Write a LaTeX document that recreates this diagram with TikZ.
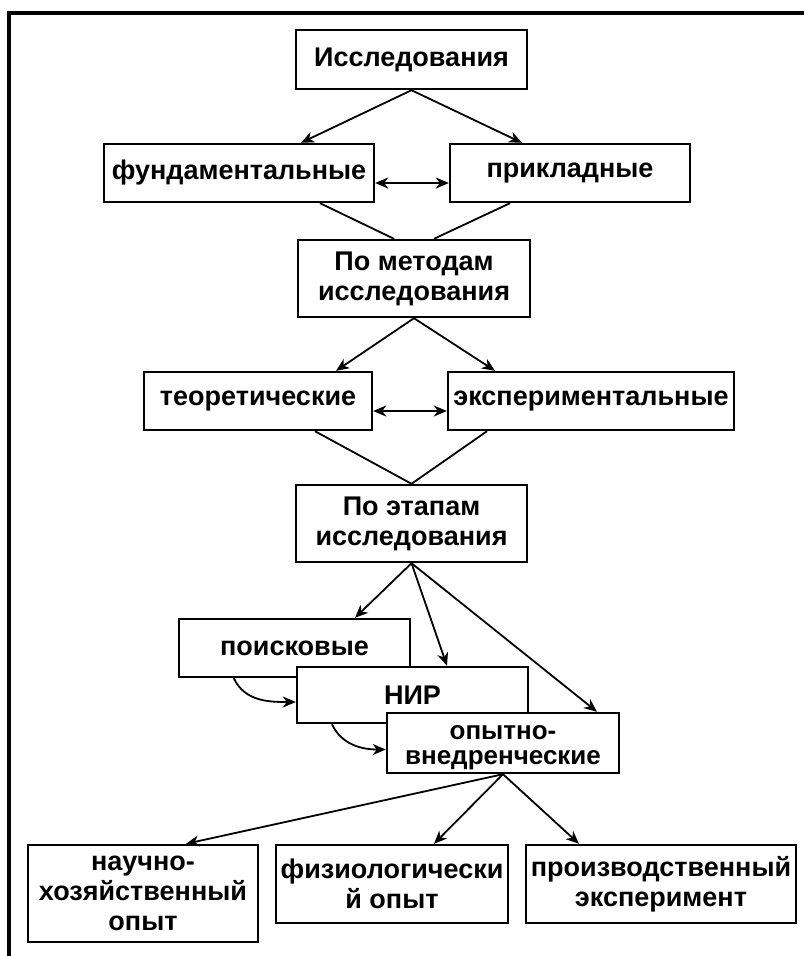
\documentclass[tikz,border=0pt]{standalone}
\usepackage{fontspec}
\setmainfont{Liberation Sans}
\usetikzlibrary{arrows.meta}
\tikzset{
  box/.style={draw, line width=2.4pt, fill=white, inner sep=0pt, align=center,
    font=\bfseries\fontsize{27}{30}\selectfont},
  conn/.style={line width=1.8pt},
  tip/.tip={Stealth[length=13pt,width=11pt,inset=4pt]},
  arr/.style={conn, -tip},
  darr/.style={conn, tip-tip},
}
\begin{document}
\begin{tikzpicture}[x=1pt,y=-1pt]
\useasboundingbox (0,0) rectangle (804,956);
\fill[white] (0,0) rectangle (804,956);
% frame
\coordinate (fbl) at (9,956);
\coordinate (ftl) at (9,13);
\coordinate (ftr) at (804,13);
\draw[line width=4pt] (fbl) -- (ftl) -- (ftr);

\node[box, minimum width=231, minimum height=59] (issl) at (411.5,59.5) {Исследования};
\node[box, minimum width=270, minimum height=58] (fund) at (239,173) {фундаментальные};
\node[box, minimum width=240, minimum height=58] (prikl) at (570,173) {прикладные};
\node[box, minimum width=232, minimum height=77] (metod) at (414,278.5) {По методам\\исследования};
\node[box, minimum width=228, minimum height=58] (teor) at (258,401) {теоретические};
\node[box, minimum width=286, minimum height=58] (eksp) at (591,401) {экспериментальные};
\node[box, minimum width=231, minimum height=77] (etap) at (411.5,523.5) {По этапам\\исследования};
\node[box, minimum width=231, minimum height=58] (poisk) at (294.5,648) {поисковые};
\node[box, minimum width=231, minimum height=56] (nir) at (412.5,695) {НИР};
\node[box, minimum width=232, minimum height=60, text height=50pt, text depth=8pt,
  font=\bfseries\fontsize{26}{25}\selectfont] (opyt) at (503,743) {опытно-\\внедренческие};
\node[box, minimum width=230, minimum height=97] (nauch) at (143,893.5) {научно-\\хозяйственный\\опыт};
\node[box, minimum width=232, minimum height=78] (fiz) at (392,884) {физиологически\\й опыт};
\node[box, minimum width=270, minimum height=78] (proizv) at (661,884) {производственный\\эксперимент};

\coordinate (y1) at (0,183);
\coordinate (y2) at (0,411);

\draw[arr] (issl.south) -- ([xshift=62pt]fund.north);
\draw[arr] (issl.south) -- ([xshift=-48pt]prikl.north);
\draw[darr] (fund.east |- y1) -- (prikl.west |- y1);
\draw[conn] ([xshift=81pt]fund.south) -- ([xshift=-20pt]metod.north);
\draw[conn] ([xshift=-60pt]prikl.south) -- ([xshift=20pt]metod.north);

\draw[arr] (metod.south) -- ([xshift=78pt]teor.north);
\draw[arr] (metod.south) -- ([xshift=-96pt]eksp.north);
\draw[darr] (teor.east |- y2) -- (eksp.west |- y2);
\draw[conn] ([xshift=57pt]teor.south) -- (etap.north);
\draw[conn] ([xshift=-104pt]eksp.south) -- (etap.north);

\draw[arr] (etap.south) -- ([xshift=60.5pt]poisk.north);
\draw[arr] (etap.south) -- ([xshift=34.5pt]nir.north);
\draw[arr] (etap.south) -- ([xshift=94pt]opyt.north);

\draw[arr] ([xshift=56pt]poisk.south west) to[out=-65,in=180] ([yshift=-7pt]nir.west);
\draw[arr] ([xshift=-80.5pt]nir.south) to[out=-65,in=180] ([yshift=-6.5pt]opyt.west);

\draw[arr] (opyt.south) -- ([xshift=43pt]nauch.north);
\draw[arr] (opyt.south) -- ([xshift=42pt]fiz.north);
\draw[arr] (opyt.south) -- ([xshift=-82pt]proizv.north);
\end{tikzpicture}
\end{document}
